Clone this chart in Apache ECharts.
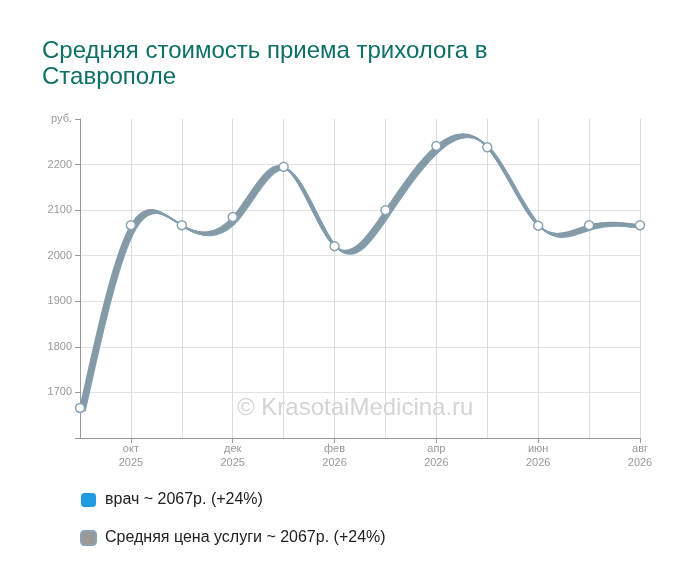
<!DOCTYPE html>
<html>
<head>
<meta charset="utf-8">
<script src="https://cdn.jsdelivr.net/npm/echarts@6/dist/echarts.min.js"></script>
<style>
  html, body { margin: 0; padding: 0; background: #fff; }
  #chart { width: 700px; height: 582px; }
</style>
</head>
<body>
<div id="chart"></div>
<script>
// месяцы (подписи по оси X)
const months = ['сен\n2025', 'окт\n2025', 'ноя\n2025', 'дек\n2025', 'янв\n2026', 'фев\n2026',
                'мар\n2026', 'апр\n2026', 'май\n2026', 'июн\n2026', 'июл\n2026', 'авг\n2026'];

// цены, руб.
const doctorPrices = [1666, 2067, 2067, 2085, 2195, 2021, 2100, 2241, 2238, 2066, 2067, 2067];
const avgServicePrices = [1666, 2067, 2067, 2085, 2195, 2021, 2100, 2241, 2238, 2066, 2067, 2067];

const seriesNames = ['врач', 'Средняя цена услуги'];
const legendLabels = ['врач ~ 2067р. (+24%)', 'Средняя цена услуги ~ 2067р. (+24%)'];

const yMin = 1600, yMax = 2300, yStep = 100;

const FONT = 'Liberation Sans, Arial, sans-serif';

// натуральный кубический сплайн по точкам (в пикселях), шаг по x равномерный
function splinePath(pts) {
    const n = pts.length;
    const M = new Array(n).fill(0);
    if (n > 2) {
        const cp = [], dp = [];
        for (let i = 1; i < n - 1; i++) {
            const rhs = 6 * (pts[i + 1][1] - 2 * pts[i][1] + pts[i - 1][1]);
            const prevC = i > 1 ? cp[i - 2] : 0;
            const prevD = i > 1 ? dp[i - 2] : 0;
            const den = 4 - prevC;
            cp.push(1 / den);
            dp.push((rhs - prevD) / den);
        }
        for (let i = n - 2; i >= 1; i--) {
            M[i] = dp[i - 1] - cp[i - 1] * M[i + 1];
        }
    }
    let d = 'M' + pts[0][0] + ' ' + pts[0][1];
    for (let i = 0; i < n - 1; i++) {
        const [x0, y0] = pts[i], [x1, y1] = pts[i + 1];
        const dx = x1 - x0;
        const s0 = (y1 - y0) - (2 * M[i] + M[i + 1]) / 6;
        const s1 = (y1 - y0) + (M[i] + 2 * M[i + 1]) / 6;
        d += ' C' + (x0 + dx / 3) + ' ' + (y0 + s0 / 3) + ' ' +
             (x1 - dx / 3) + ' ' + (y1 - s1 / 3) + ' ' + x1 + ' ' + y1;
    }
    return d;
}

const chart = echarts.init(document.getElementById('chart'));

chart.setOption({
    backgroundColor: '#fff',
    animation: false,
    title: {
        text: 'Средняя стоимость приема трихолога в\nСтаврополе',
        left: 42,
        top: 38,
        padding: 0,
        textStyle: {
            fontFamily: FONT,
            fontSize: 24,
            fontWeight: 'normal',
            lineHeight: 26,
            color: '#0d6f65'
        }
    },
    graphic: [{
        type: 'text',
        left: 237,
        top: 396,
        silent: true,
        z: 1,
        style: {
            text: '© KrasotaiMedicina.ru',
            font: '24px "Liberation Sans", Arial, sans-serif',
            fill: '#d4d4d4'
        }
    }],
    legend: {
        orient: 'vertical',
        left: 80,
        top: 492,
        padding: 0,
        itemWidth: 15,
        itemHeight: 14,
        itemGap: 22,
        icon: 'roundRect',
        data: [
            { name: seriesNames[0], itemStyle: { color: '#1e9be0' } },
            { name: seriesNames[1], itemStyle: { color: '#999999' } }
        ],
        formatter: name => legendLabels[seriesNames.indexOf(name)],
        textStyle: {
            fontFamily: FONT,
            fontSize: 16,
            color: '#222',
            padding: [0, 0, 0, 4]
        },
        selectedMode: false
    },
    grid: {
        left: 80,
        right: 60,
        top: 119,
        bottom: 144
    },
    xAxis: {
        type: 'category',
        data: months,
        boundaryGap: false,
        axisLine: { lineStyle: { color: '#999', width: 1 } },
        axisTick: {
            show: true,
            length: 5,
            interval: idx => idx % 2 === 1,
            lineStyle: { color: '#999' }
        },
        axisLabel: {
            interval: idx => idx % 2 === 1,
            color: '#999',
            fontSize: 11,
            lineHeight: 14,
            margin: 4,
            fontFamily: FONT
        },
        splitLine: {
            show: true,
            interval: 0,
            lineStyle: { color: '#dcdcdc', width: 1 }
        }
    },
    yAxis: {
        type: 'value',
        min: yMin,
        max: yMax,
        interval: yStep,
        axisLine: { show: true, lineStyle: { color: '#999', width: 1 } },
        axisTick: { show: true, length: 5, lineStyle: { color: '#999' } },
        axisLabel: {
            color: '#999',
            fontSize: 11,
            margin: 8,
            fontFamily: FONT,
            formatter: v => (v === yMin ? '' : v === yMax ? 'руб.' : String(v))
        },
        splitLine: {
            show: true,
            lineStyle: {
                color: ['transparent', '#e2e2e2', '#e2e2e2', '#e2e2e2', '#e2e2e2', '#e2e2e2', '#e2e2e2', 'transparent'],
                width: 1
            }
        }
    },
    series: [
        {
            // сглаженная "лента" линии
            name: seriesNames[0],
            type: 'custom',
            data: doctorPrices.map((v, i) => [i, v]),
            itemStyle: { color: '#1e9be0' },
            z: 2,
            renderItem: function (params, api) {
                if (params.dataIndex !== 0) return null;
                const pts = doctorPrices.map((v, i) => api.coord([i, v]));
                const d = splinePath(pts);
                const cs = params.coordSys;
                const strokes = [];
                const steps = 8;
                for (let j = 0; j <= steps; j++) {
                    const k = j / steps;
                    strokes.push({
                        type: 'path',
                        x: k * 5,
                        y: k * 3.5,
                        shape: { pathData: d },
                        style: {
                            fill: null,
                            stroke: j % 2 ? '#8f9599' : '#7e9fb4',
                            lineWidth: 1.5
                        }
                    });
                }
                return {
                    type: 'group',
                    children: strokes,
                    clipPath: {
                        type: 'rect',
                        shape: { x: cs.x - 2, y: cs.y - 10, width: cs.width + 3, height: cs.height + 10 }
                    }
                };
            }
        },
        {
            name: seriesNames[1],
            type: 'line',
            data: avgServicePrices,
            symbol: 'circle',
            symbolSize: 9,
            showSymbol: true,
            itemStyle: { color: '#ffffff', borderColor: '#8aa2b2', borderWidth: 1.5 },
            lineStyle: { opacity: 0 },
            z: 3
        }
    ]
});
</script>
</body>
</html>
